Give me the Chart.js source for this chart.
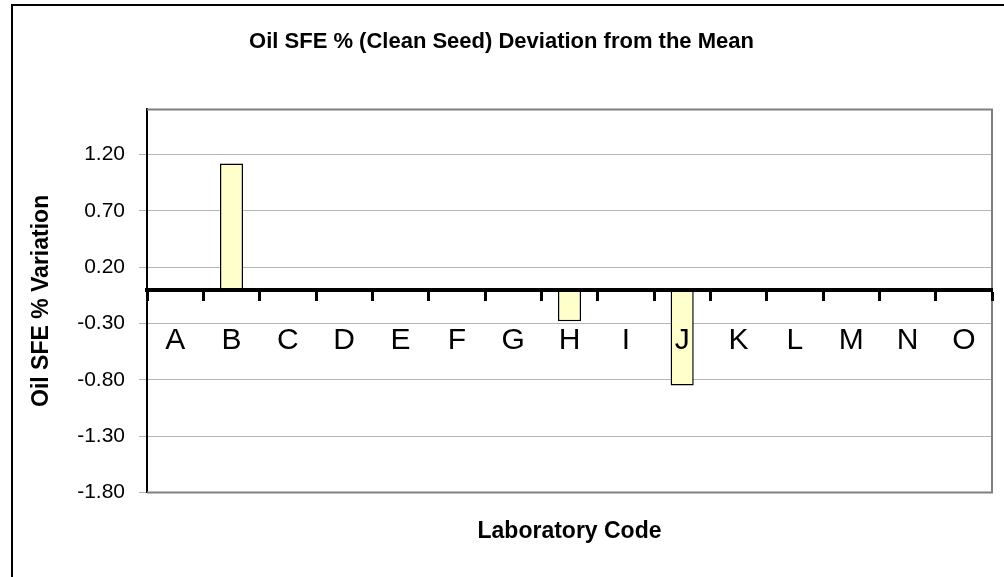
<!DOCTYPE html>
<html>
<head>
<meta charset="utf-8">
<script src="https://cdn.jsdelivr.net/npm/chart.js@4.4.0/dist/chart.umd.min.js"></script>
<style>
  html, body { margin: 0; padding: 0; background: #fff; }
</style>
</head>
<body>
<canvas id="myChart" width="1004" height="577"></canvas>
<script>
// lab codes along the x axis
var labCodes = ['A', 'B', 'C', 'D', 'E', 'F', 'G', 'H', 'I', 'J', 'K', 'L', 'M', 'N', 'O'];
// deviation from the mean (only B, H and J differ)
var deviation = [0, 1.12, 0, 0, 0, 0, 0, -0.28, 0, -0.85, 0, 0, 0, 0, 0];
// y axis ticks as Excel drew them
var yTickValues = [-1.8, -1.3, -0.8, -0.3, 0.2, 0.7, 1.2];
var yTickLabels = ['-1.80', '-1.30', '-0.80', '-0.30', '0.20', '0.70', '1.20'];
var yMin = -1.8;
var yMax = 1.6;

Chart.defaults.font.family = '"Liberation Sans", Arial, sans-serif';
Chart.defaults.color = '#000';

var framePlugin = {
    id: 'frame',
    beforeDraw: function(chart) {
        var ctx = chart.ctx;
        ctx.save();
        ctx.fillStyle = '#fff';
        ctx.fillRect(0, 0, chart.width, chart.height);
        // outer chart frame (cut off at right and bottom)
        ctx.fillStyle = '#000';
        ctx.fillRect(11, 4, chart.width - 11, 2);
        ctx.fillRect(11, 4, 2, chart.height - 4);
        ctx.restore();
    },
    beforeDatasetsDraw: function(chart) {
        var a = chart.chartArea;
        var ctx = chart.ctx;
        ctx.save();
        ctx.strokeStyle = '#808080';
        ctx.lineWidth = 2;
        ctx.beginPath();
        ctx.moveTo(a.left, a.top);
        ctx.lineTo(a.right, a.top);
        ctx.lineTo(a.right, a.bottom);
        ctx.lineTo(a.left, a.bottom);
        ctx.stroke();
        ctx.restore();
    }
};

var ctx = document.getElementById('myChart');
var myChart = new Chart(ctx, {
    type: 'bar',
    data: {
        labels: labCodes,
        datasets: [{
            label: 'Deviation',
            data: deviation,
            backgroundColor: '#ffffcc',
            borderColor: '#000',
            borderWidth: 1.5,
            categoryPercentage: 1,
            barPercentage: 0.41
        }]
    },
    options: {
        responsive: false,
        animation: false,
        devicePixelRatio: 1,
        layout: { padding: { left: 11, right: 12, top: 0, bottom: 0 } },
        plugins: {
            legend: { display: false },
            tooltip: { enabled: false },
            title: {
                display: true,
                text: 'Oil SFE % (Clean Seed) Deviation from the Mean',
                font: { size: 22, weight: 'bold' },
                color: '#000',
                padding: { top: 29, bottom: 54 }
            },
            subtitle: {
                display: true,
                position: 'bottom',
                fullSize: false,
                text: 'Laboratory Code',
                font: { size: 23, weight: 'bold' },
                color: '#000',
                padding: { top: 25, bottom: 32 }
            }
        },
        scales: {
            x: {
                position: { y: 0 },
                offset: true,
                z: 2,
                grid: {
                    z: 2,
                    offset: true,
                    drawOnChartArea: false,
                    drawTicks: true,
                    tickLength: 9,
                    tickWidth: 3,
                    tickColor: '#000'
                },
                border: { z: 2, color: '#000', width: 4 },
                ticks: {
                    z: 2,
                    font: { size: 30 },
                    color: '#000',
                    padding: 24,
                    maxRotation: 0,
                    autoSkip: false
                }
            },
            y: {
                min: yMin,
                max: yMax,
                afterBuildTicks: function(scale) {
                    scale.ticks = yTickValues.map(function(v) { return { value: v }; });
                },
                afterFit: function(scale) {
                    scale.width = 136;
                },
                ticks: {
                    callback: function(v, i) { return yTickLabels[i]; },
                    font: { size: 21 },
                    color: '#000',
                    padding: 14
                },
                grid: { color: '#b4b4b4', tickLength: 8, lineWidth: 1 },
                border: { color: '#000', width: 2 },
                title: {
                    display: true,
                    text: 'Oil SFE % Variation',
                    font: { size: 23, weight: 'bold' },
                    color: '#000',
                    padding: { top: 17, bottom: 0 }
                }
            }
        }
    },
    plugins: [framePlugin]
});
</script>
</body>
</html>
